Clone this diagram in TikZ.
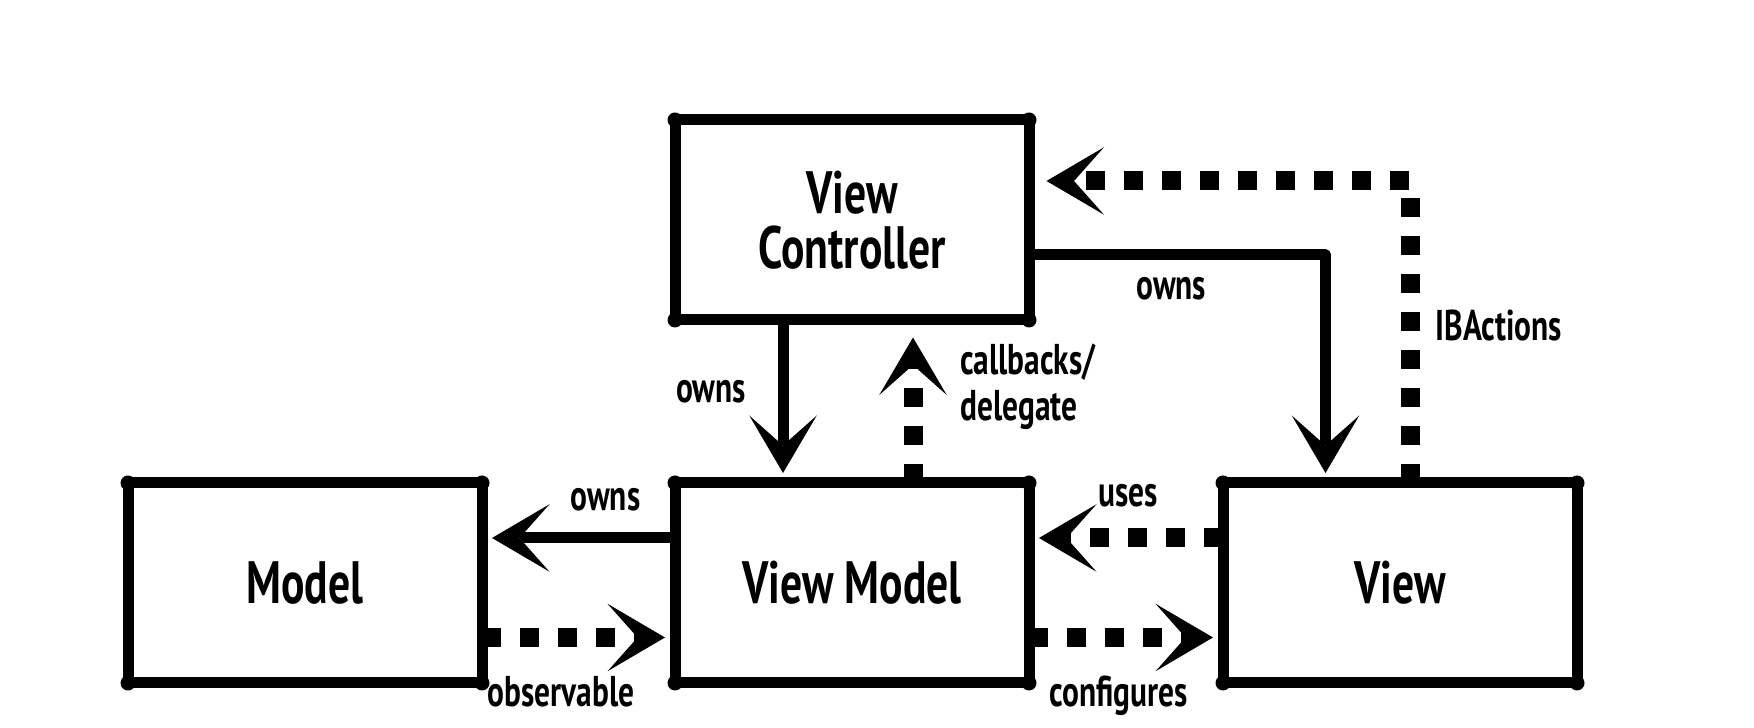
\documentclass[tikz,border=0pt]{standalone}
\usepackage{fontspec}
\newfontfamily\handfont[FakeStretch=0.73]{PT Sans}
\usetikzlibrary{arrows.meta, positioning, calc}

\begin{document}
\begin{tikzpicture}[line join=round,
        box/.style = {draw, line width=0.22cm, minimum width=7.08cm, minimum height=4cm, outer sep=0pt, align=center, font=\handfont\bfseries\fontsize{34}{31}\selectfont},
        owner/.style = {line width=0.22cm, shorten >=0.2cm, -{Stealth[length=1.15cm, width=1.35cm, inset=0.6cm, line width=0pt]}},
        link/.style = {line width=0.38cm, dash pattern=on 0.38cm off 0.38cm, shorten >=0.2cm, -{Stealth[length=1.15cm, width=1.35cm, inset=0.6cm, line width=0pt]}},
        lbl/.style = {inner sep=1pt, font=\handfont\bfseries\fontsize{24.5}{26}\selectfont}]

        \useasboundingbox (0,0) rectangle (35.08,14.56);

        \node[box] (vc) at (17.04, 10.16) {View\\Controller};
        \node[box] (model) at (6.1, 2.9) {Model};
        \node[box] (vm) at (17.04, 2.9) {View Model};
        \node[box] (view) at (28.0, 2.9) {View};

        % corner knobs
        \foreach \b in {vc, model, vm, view}
            \foreach \c in {north east, north west, south east, south west}
                \fill (\b.\c) circle (0.15cm);

        \draw[owner] ([xshift=-1.38cm]vc.south) -- ([xshift=-1.38cm]vm.north) node[lbl, pos=0.44, left=0.6cm] {owns};
        \draw[link, shorten >=0.35cm] ([xshift=1.22cm]vm.north) -- ([xshift=1.22cm]vc.south) node[lbl, pos=0.59, right=0.72cm, align=left] {callbacks/\\delegate};

        \draw[owner] ([yshift=-0.7cm]vc.east) -| ([xshift=-1.49cm]view.north) node[lbl, pos=0.24, below=0.3cm] {owns};
        \draw[link, shorten >=0.35cm] ([xshift=0.21cm]view.north) |- ([yshift=0.78cm]vc.east) node[lbl, pos=0.26, right=0.28cm] {IBActions};

        \draw[owner] ([yshift=0.9cm]vm.west) -- ([yshift=0.9cm]model.east) node[lbl, pos=0.36, above=0.4cm] {owns};
        \draw[link] ([yshift=-1.09cm]model.east) -- ([yshift=-1.09cm]vm.west) node[lbl, pos=0.41, below=0.55cm] {observable};

        \draw[link] ([yshift=0.9cm]view.west) -- ([yshift=0.9cm]vm.east) node[lbl, pos=0.49, above=0.4cm] {uses};
        \draw[link] ([yshift=-1.09cm]vm.east) -- ([yshift=-1.09cm]view.west) node[lbl, pos=0.46, below=0.55cm] {configures};
    \end{tikzpicture}
\end{document}
